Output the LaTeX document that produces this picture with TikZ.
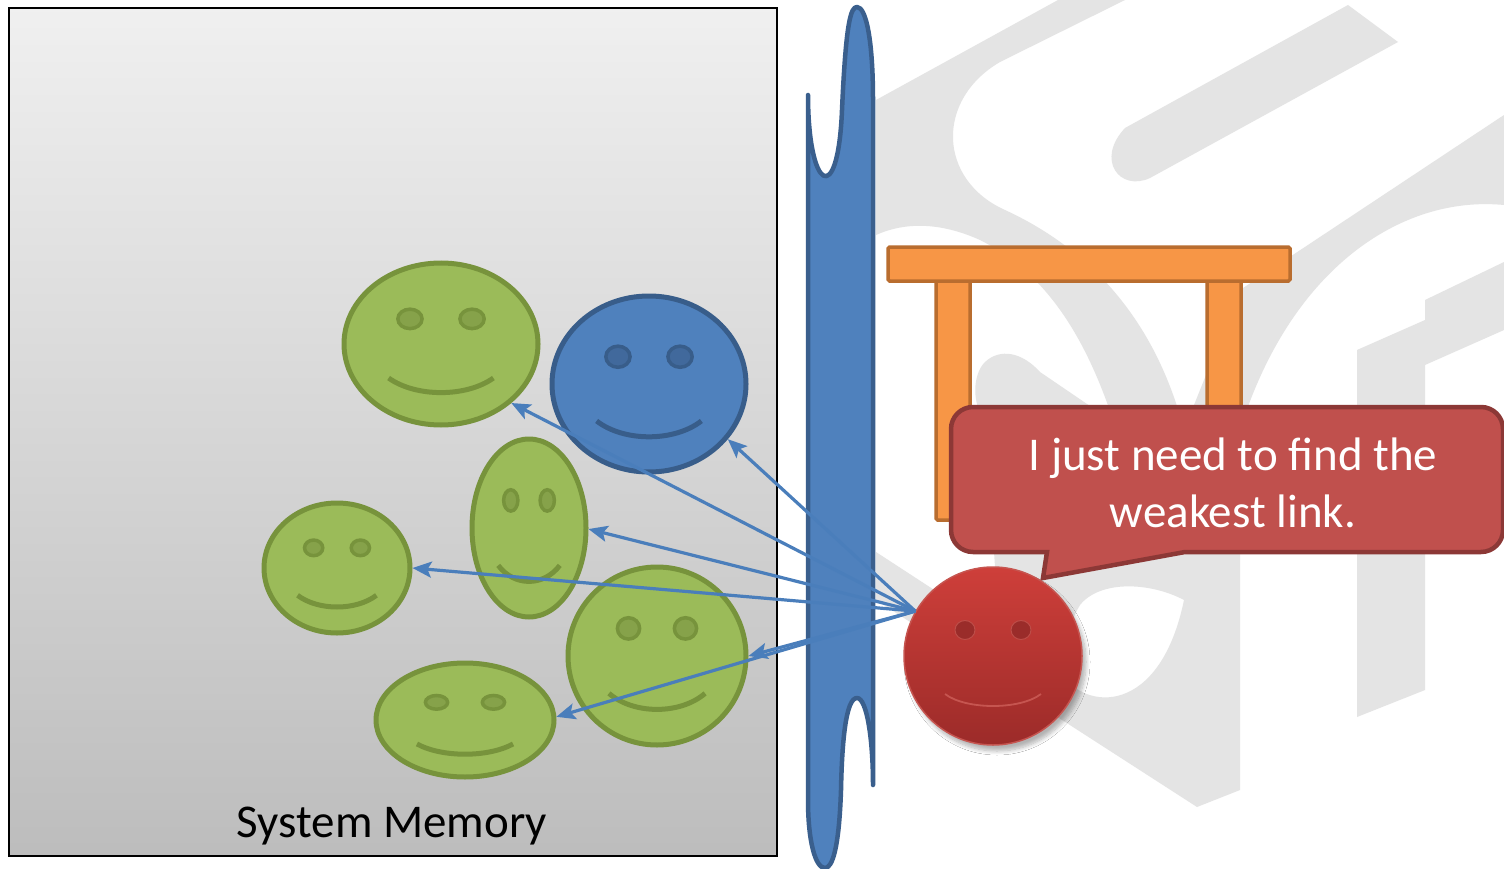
\documentclass[tikz,border=0pt]{standalone}
\usepackage{fontspec}
\setmainfont{Carlito}
\usetikzlibrary{shapes.geometric,arrows.meta,shadows.blur}

\definecolor{grfill}{HTML}{9BBB59}
\definecolor{grline}{HTML}{77933C}
\definecolor{greye}{HTML}{86A24A}
\definecolor{blfill}{HTML}{4F81BD}
\definecolor{blline}{HTML}{385D8A}
\definecolor{bleye}{HTML}{41699C}
\definecolor{wallfill}{HTML}{4F81BD}
\definecolor{wallline}{HTML}{3A5F8D}
\definecolor{probeblue}{HTML}{4A7EBB}
\definecolor{tablefill}{HTML}{F79646}
\definecolor{tableline}{HTML}{B96D2F}
\definecolor{bubblefill}{HTML}{C0504D}
\definecolor{bubbleline}{HTML}{8C3836}
\definecolor{redtop}{HTML}{CE3F3A}
\definecolor{redbot}{HTML}{9C2B29}
\definecolor{redeye}{HTML}{9A2C2A}
\definecolor{redline}{HTML}{C65550}
\definecolor{wm}{HTML}{E4E4E4}

\tikzset{
  face/.style={ellipse, inner sep=0pt, line width=5pt},
  eyering/.style={line width=3.5pt},
  mouth/.style={line width=5pt},
  probe/.style={draw=probeblue, line width=3.2pt,
    -{Stealth[length=19pt, width=16pt, inset=4pt]}},
  label/.style={inner sep=0pt, anchor=base},
}

% #1 name, #2 cx, #3 cy, #4 rx, #5 ry, #6 colour prefix (gr or bl)
\newcommand{\smileyface}[6]{%
  \node[face, draw=#6line, fill=#6fill,
        minimum width={2*#4}, minimum height={2*#5}] (#1) at (#2,#3) {};
  \draw[eyering, draw=#6line, fill=#6eye]
    ({#2-0.32*#4},{#3-0.31*#5}) ellipse [x radius={0.125*#4*1pt}, y radius={0.12*#5*1pt}]
    ({#2+0.32*#4},{#3-0.31*#5}) ellipse [x radius={0.125*#4*1pt}, y radius={0.12*#5*1pt}];
  \draw[mouth, draw=#6line]
    ({#2-0.54*#4},{#3+0.42*#5})
    .. controls ({#2-0.26*#4},{#3+0.66*#5}) and ({#2+0.26*#4},{#3+0.66*#5})
    .. ({#2+0.54*#4},{#3+0.42*#5});
}

\begin{document}
\begin{tikzpicture}[x=1pt, y=-1pt]
\useasboundingbox (0,0) rectangle (1504,869);
\fill[white] (0,0) rectangle (1504,869);

% faint logo watermark behind the right half
\begin{scope}[fill=wm]
  % upper curved stroke
  \fill (876,100) -- (1058,0) -- (1125,0) -- (1000,62)
        .. controls (935,100) and (938,180) .. (1005,210)
        .. controls (1070,240) and (1150,300) .. (1184,430)
        -- (1184,460) -- (1125,460) .. controls (1090,330) and (1040,270) .. (980,240)
        .. controls (940,222) and (905,222) .. (876,235) -- cycle;
  % slanted bar with rounded end
  \fill (1125,128) -- (1348,5) -- (1398,42) -- (1150,178)
        .. controls (1120,192) and (1095,160) .. (1125,128) -- cycle;
  % right arch
  \fill (1240,290) -- (1504,115) -- (1504,205)
        .. controls (1400,195) and (1290,270) .. (1240,430) -- (1184,430) -- cycle;
  % bowl top with rounded end
  \fill (985,362) .. controls (1000,348) and (1022,352) .. (1040,372)
        -- (1184,470) -- (1184,600)
        .. controls (1150,582) and (1100,580) .. (1080,605)
        .. controls (1068,625) and (1062,650) .. (1060,672)
        -- (1000,640) -- (985,420)
        .. controls (972,405) and (972,375) .. (985,362) -- cycle;
  % stem, lower diagonal and bowl
  \fill (876,552) -- (1060,672)
        .. controls (1085,712) and (1160,716) .. (1184,600)
        -- (1184,420) -- (1240,420) -- (1240,790) -- (1197,807)
        -- (876,600) -- cycle;
  % right-hand bar
  \fill (1357,350) -- (1425,320) -- (1425,690) -- (1357,717) -- cycle;
  \fill (1425,300) -- (1504,262) -- (1504,330) -- (1425,365) -- cycle;
\end{scope}

% system memory panel
\shade[top color=black!6, bottom color=black!26]
  (9,8) rectangle (777,856);
\draw[line width=2pt, black] (9,8) rectangle (777,856);
\node[label, font=\fontsize{47}{57}\selectfont] (memlabel) at (392,837) {System Memory};

% the wall
\filldraw[fill=wallfill, draw=wallline, line width=4.5pt, line join=round]
  (808,95) .. controls (808,190) and (838,210) .. (842,110)
  .. controls (846,20) and (851,7) .. (857,7)
  .. controls (866,7) and (873,40) .. (873,100)
  -- (873,785)
  .. controls (873,740) and (867,698) .. (857,698)
  .. controls (846,698) and (842,740) .. (841,790)
  .. controls (839,850) and (832,868) .. (825,868)
  .. controls (815,868) and (808,840) .. (808,800) -- cycle;

% the table
\begin{scope}[fill=tablefill, draw=tableline, line width=3.5pt, rounded corners=1.5pt]
  \filldraw (936,279) rectangle (970,520);
  \filldraw (1207,279) rectangle (1241,440);
  \filldraw (888,247) rectangle (1290,281);
\end{scope}

% speech bubble
\filldraw[fill=bubblefill, draw=bubbleline, line width=4.5pt, line join=miter]
  (1047,552) -- (1043,578) -- (1185,552) -- (1481,552)
  .. controls (1493.15,552) and (1503,542.15) .. (1503,530)
  -- (1503,429)
  .. controls (1503,416.85) and (1493.15,407) .. (1481,407)
  -- (973,407)
  .. controls (960.85,407) and (951,416.85) .. (951,429)
  -- (951,530)
  .. controls (951,542.15) and (960.85,552) .. (973,552) -- cycle;
\node[label, text=white, font=\fontsize{47}{57}\selectfont] (say1) at (1233,470) {I just need to find the};
\node[label, text=white, font=\fontsize{47}{57}\selectfont] (say2) at (1233,527) {weakest link.};

% objects in memory
\smileyface{g1}{441}{344}{97}{81}{gr}
\smileyface{bl}{649}{384}{97}{88}{bl}
\smileyface{g2}{529}{528}{57}{89}{gr}
\smileyface{g3}{337}{568}{73}{65}{gr}
\smileyface{g4}{657}{656}{89}{89}{gr}
\smileyface{g5}{465}{720}{89}{57}{gr}

% the attacker
\node[circle, minimum size=178pt, inner sep=0pt, draw=redline, line width=1.5pt,
      top color=redtop, bottom color=redbot,
      blur shadow={shadow xshift=4pt, shadow yshift=-6pt, shadow opacity=30, shadow blur radius=4pt, shadow blur steps=8}]
  (red) at (993,656) {};
\draw[fill=redeye, draw=redline!80!redeye, line width=1pt]
  (965,630) ellipse [x radius=10pt, y radius=9.5pt]
  (1021,630) ellipse [x radius=10pt, y radius=9.5pt];
\draw[draw=redline, line width=1.8pt]
  (945,694) .. controls (966,710) and (1020,710) .. (1041,694);

% probes from the attacker into memory
\draw[probe] (red.150) -- (g1.-40);
\draw[probe] (red.150) -- (bl.-35);
\draw[probe] (red.150) -- (g2.-1);
\draw[probe] (red.150) -- (g3.0);
\draw[probe] (red.150) -- (g4.0);
\draw[probe] (red.150) -- (g5.2);
\end{tikzpicture}
\end{document}
